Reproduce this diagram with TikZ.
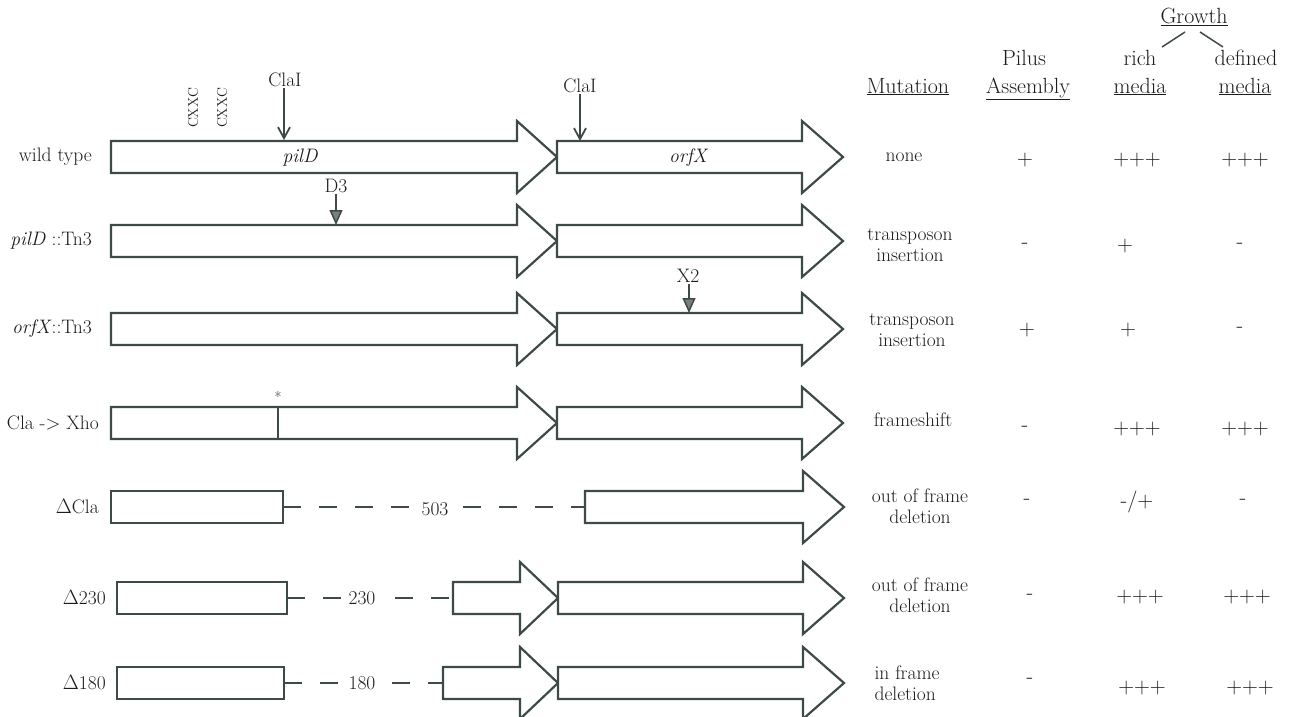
\documentclass[tikz,border=0pt]{standalone}
\usetikzlibrary{arrows.meta}
\definecolor{ink}{RGB}{62,74,70}
\definecolor{txt}{RGB}{28,28,28}
\tikzset{
 gene/.style={draw=ink, line width=2.2pt, fill=white, line join=miter},
 lbl/.style={text=txt, font=\fontsize{19.5}{21}\selectfont, inner sep=1pt},
 hdr/.style={text=txt, font=\fontsize{22}{24}\selectfont, inner sep=1pt, anchor=base},
 val/.style={text=txt, font=\fontsize{22}{24}\selectfont, inner sep=1pt},
 desc/.style={lbl, align=center},
 cutarrow/.style={draw=ink, line width=1.8pt, -{Straight Barb[length=11pt,width=12pt]}},
 tnarrow/.style={draw=ink, line width=1.5pt, -{Triangle[length=15pt,width=13pt,fill=ink!70]}},
 gapline/.style={draw=ink, line width=2pt, dash pattern=on 18pt off 18pt},
 numlbl/.style={lbl, fill=white, inner sep=3pt},
 cxxc/.style={text=txt, font=\fontsize{14}{15}\selectfont, rotate=90, inner sep=0pt},
}
\newcommand{\gene}[4]{%
 \draw[gene] (#1,#4-16) -- (#2,#4-16) -- (#2,#4-36) -- (#3,#4) -- (#2,#4+36) -- (#2,#4+16) -- (#1,#4+16) -- cycle;}
\newcommand{\boxgene}[3]{%
 \draw[gene] (#1,#3-16) rectangle (#2,#3+16);}
\begin{document}
\begin{tikzpicture}[x=1pt,y=-1pt]
\useasboundingbox (0,0) rectangle (1293,716);

% ---------- headers ----------
\node[hdr] (hmut) at (908,93) {\underline{Mutation}};
\node[hdr] (hpil) at (1024,65) {Pilus};
\node[hdr] (hasm) at (1028,93) {\underline{Assembly}};
\node[hdr] (hrich) at (1140,65) {rich};
\node[hdr] (hrm) at (1140,93) {\underline{media}};
\node[hdr] (hdef) at (1246,65) {defined};
\node[hdr] (hdm) at (1245,93) {\underline{media}};
\node[hdr] (hgro) at (1194,23) {\underline{Growth}};
\coordinate (gl1) at (1185,32); \coordinate (gl2) at (1162,47);
\coordinate (gr1) at (1200,32); \coordinate (gr2) at (1223,47);
\draw[ink, line width=1.5pt] (gl1) -- (gl2);
\draw[ink, line width=1.5pt] (gr1) -- (gr2);

% ---------- row 1: wild type ----------
\node[lbl, anchor=east] (l1) at (93,157) {wild type};
\gene{111}{517}{557}{157}
\gene{557}{802}{843}{157}
\node[lbl] (pild) at (300,158) {\itshape pilD};
\node[lbl] (orfx) at (688,158) {\itshape orfX};
\node[cxxc] (cx1) at (193,108) {CXXC};
\node[cxxc] (cx2) at (222,108) {CXXC};
\node[lbl] (cla1) at (285,80) {ClaI};
\coordinate (cla1t) at (284,140);
\draw[cutarrow] (cla1.south -| cla1t) -- (cla1t);
\node[lbl] (cla2) at (580,86) {ClaI};
\coordinate (cla2t) at (580,141);
\draw[cutarrow] (cla2.south -| cla2t) -- (cla2t);
\node[lbl] (m1) at (904,157) {none};
\node[val] (p1) at (1025,160) {+};
\node[val] (r1) at (1137,160) {+++};
\node[val] (d1) at (1245,160) {+++};

% ---------- row 2: pilD::Tn3 ----------
\node[lbl, anchor=east] (l2) at (93,241) {\textit{pilD} ::Tn3};
\gene{111}{517}{557}{241}
\gene{557}{802}{843}{241}
\node[lbl] (d3) at (336,186) {D3};
\coordinate (d3t) at (336,225);
\draw[tnarrow] (d3.south -| d3t) -- (d3t);
\node[desc] (m2) at (910,245) {transposon\\insertion};
\node[val] (p2) at (1025,246) {-};
\node[val] (r2) at (1125,246) {+};
\node[val] (d2) at (1240,246) {-};

% ---------- row 3: orfX::Tn3 ----------
\node[lbl, anchor=east] (l3) at (93,329) {\textit{orfX}::Tn3};
\gene{111}{517}{557}{329}
\gene{557}{802}{843}{329}
\node[lbl] (x2) at (688,276) {X2};
\coordinate (x2t) at (689,313);
\draw[tnarrow] (x2.south -| x2t) -- (x2t);
\node[desc] (m3) at (912,330) {transposon\\insertion};
\node[val] (p3) at (1027,330) {+};
\node[val] (r3) at (1128,330) {+};
\node[val] (d3v) at (1240,330) {-};

% ---------- row 4: Cla -> Xho ----------
\node[lbl, anchor=east] (l4) at (100,423) {Cla -{}> Xho};
\gene{111}{517}{557}{423}
\gene{557}{802}{843}{423}
\coordinate (fs1) at (278,407); \coordinate (fs2) at (278,439);
\draw[ink, line width=2pt] (fs1) -- (fs2);
\node[text=txt, font=\fontsize{15}{16}\selectfont, inner sep=0pt] (ast) at (278,397) {*};
\node[lbl] (m4) at (913,420) {frameshift};
\node[val] (p4) at (1025,429) {-};
\node[val] (r4) at (1137,429) {+++};
\node[val] (d4) at (1245,429) {+++};

% ---------- row 5: Delta Cla ----------
\node[lbl, anchor=east] (l5) at (100,507) {$\Delta$Cla};
\coordinate (g5a) at (283,507); \coordinate (g5b) at (585,507);
\draw[gapline] (g5a) -- (g5b);
\boxgene{111}{283}{507}
\gene{585}{803}{844}{507}
\node[numlbl] (n503) at (435,509) {503};
\node[desc] (m5) at (920,506) {out of frame\\deletion};
\node[val] (p5) at (1027,502) {-};
\node[val] (r5) at (1137,502) {-/+};
\node[val] (d5) at (1243,502) {-};

% ---------- row 6: Delta 230 ----------
\node[lbl, anchor=east] (l6) at (107,598) {$\Delta$230};
\coordinate (g6a) at (287,598); \coordinate (g6b) at (453,598);
\draw[gapline] (g6a) -- (g6b);
\boxgene{117}{287}{598}
\gene{453}{520}{558}{598}
\gene{558}{803}{844}{598}
\node[numlbl] (n230) at (362,598) {230};
\node[desc] (m6) at (920,595) {out of frame\\deletion};
\node[val] (p6) at (1030,597) {-};
\node[val] (r6) at (1140,597) {+++};
\node[val] (d6) at (1247,597) {+++};

% ---------- row 7: Delta 180 ----------
\node[lbl, anchor=east] (l7) at (107,683) {$\Delta$180};
\coordinate (g7a) at (284,683); \coordinate (g7b) at (443,683);
\draw[gapline] (g7a) -- (g7b);
\boxgene{117}{284}{683}
\gene{443}{520}{558}{683}
\gene{558}{803}{844}{683}
\node[numlbl] (n180) at (362,683) {180};
\node[lbl, align=left] (m7) at (907,683) {in frame\\deletion};
\node[val] (p7) at (1030,681) {-};
\node[val] (r7) at (1142,688) {+++};
\node[val] (d7) at (1250,688) {+++};
\end{tikzpicture}
\end{document}
